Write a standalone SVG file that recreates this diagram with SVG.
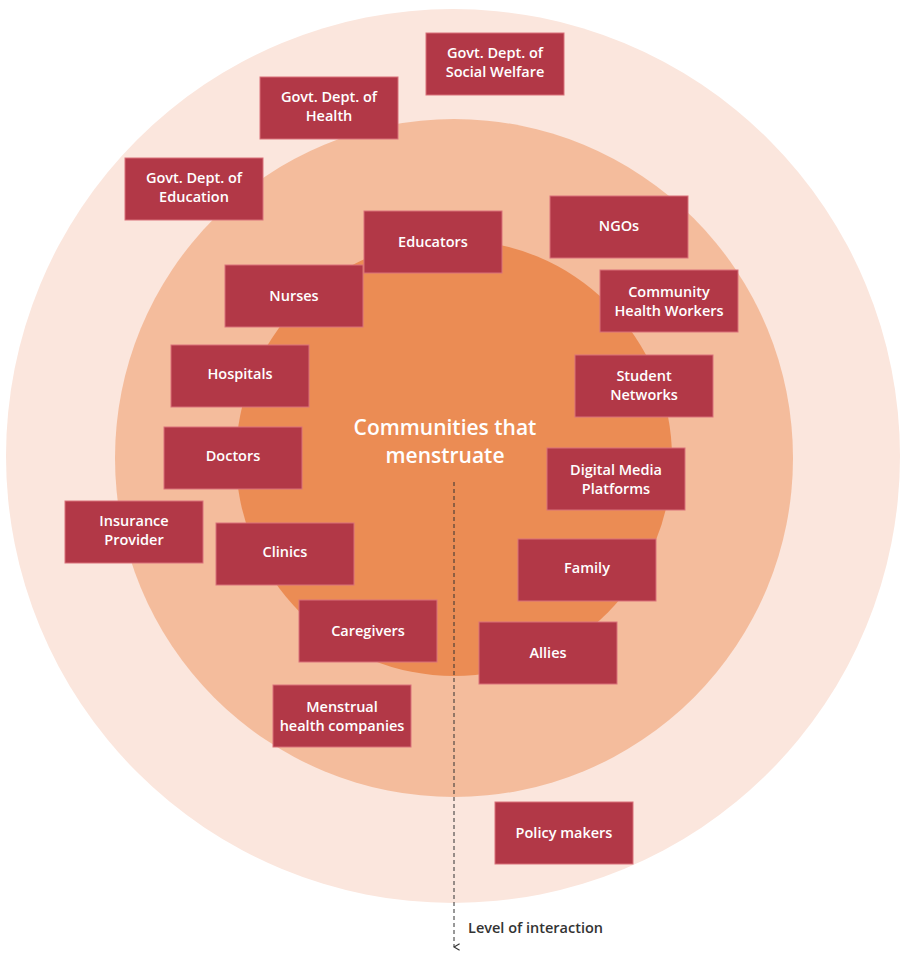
<svg xmlns="http://www.w3.org/2000/svg" width="910" height="968" viewBox="0 0 910 968">
<defs>
<style>
.b rect{fill:#B23847;stroke:#D9707A;stroke-width:1}
.b text{fill:#fff;font-family:"Open Sans","Liberation Sans",sans-serif;font-size:14.5px;font-weight:600;text-anchor:middle}
</style>
<marker id="ah" viewBox="0 0 10 10" refX="5" refY="9" markerWidth="8" markerHeight="8" orient="auto-start-reverse" markerUnits="userSpaceOnUse"><path d="M1 2 L5 9 L9 2" fill="none" stroke="#333" stroke-width="1.5"/></marker>
</defs>
<rect width="910" height="968" fill="#fff"/>
<g id="rings">
<circle cx="453" cy="456" r="447" fill="#FBE6DD"/>
<circle cx="454" cy="458" r="339" fill="#F4BC9C"/>
<circle cx="454" cy="458" r="218" fill="#EB8C54"/>
</g>
<g id="center"><text x="445" y="435" fill="#fff" font-family="'Open Sans','Liberation Sans',sans-serif" font-size="21" font-weight="600" text-anchor="middle">Communities that</text><text x="445" y="463" fill="#fff" font-family="'Open Sans','Liberation Sans',sans-serif" font-size="21" font-weight="600" text-anchor="middle">menstruate</text></g>
<g id="connectors"><line x1="454" y1="482" x2="454" y2="947" stroke="#333" stroke-width="1" stroke-dasharray="4 3" marker-end="url(#ah)"/></g>
<text x="468" y="933" fill="#333" font-family="'Open Sans','Liberation Sans',sans-serif" font-size="14.5" font-weight="600">Level of interaction</text>
<g id="n1" class="b"><rect x="426" y="33" width="138" height="62"/><text x="495" y="58">Govt. Dept. of</text><text x="495" y="77">Social Welfare</text></g>
<g id="n2" class="b"><rect x="260" y="77" width="138" height="62"/><text x="329" y="102">Govt. Dept. of</text><text x="329" y="121">Health</text></g>
<g id="n3" class="b"><rect x="125" y="158" width="138" height="62"/><text x="194" y="183">Govt. Dept. of</text><text x="194" y="202">Education</text></g>
<g id="n4" class="b"><rect x="364" y="211" width="138" height="62"/><text x="433" y="247">Educators</text></g>
<g id="n5" class="b"><rect x="550" y="196" width="138" height="62"/><text x="619" y="231">NGOs</text></g>
<g id="n6" class="b"><rect x="225" y="265" width="138" height="62"/><text x="294" y="301">Nurses</text></g>
<g id="n7" class="b"><rect x="600" y="270" width="138" height="62"/><text x="669" y="297">Community</text><text x="669" y="316">Health Workers</text></g>
<g id="n8" class="b"><rect x="171" y="345" width="138" height="62"/><text x="240" y="379">Hospitals</text></g>
<g id="n9" class="b"><rect x="575" y="355" width="138" height="62"/><text x="644" y="381">Student</text><text x="644" y="400">Networks</text></g>
<g id="n10" class="b"><rect x="164" y="427" width="138" height="62"/><text x="233" y="461">Doctors</text></g>
<g id="n11" class="b"><rect x="547" y="448" width="138" height="62"/><text x="616" y="475">Digital Media</text><text x="616" y="494">Platforms</text></g>
<g id="n12" class="b"><rect x="65" y="501" width="138" height="62"/><text x="134" y="526">Insurance</text><text x="134" y="545">Provider</text></g>
<g id="n13" class="b"><rect x="216" y="523" width="138" height="62"/><text x="285" y="557">Clinics</text></g>
<g id="n14" class="b"><rect x="518" y="539" width="138" height="62"/><text x="587" y="573">Family</text></g>
<g id="n15" class="b"><rect x="299" y="600" width="138" height="62"/><text x="368" y="636">Caregivers</text></g>
<g id="n16" class="b"><rect x="479" y="622" width="138" height="62"/><text x="548" y="658">Allies</text></g>
<g id="n17" class="b"><rect x="273" y="685" width="138" height="62"/><text x="342" y="712">Menstrual</text><text x="342" y="731">health companies</text></g>
<g id="n18" class="b"><rect x="495" y="802" width="138" height="62"/><text x="564" y="838">Policy makers</text></g>
</svg>
